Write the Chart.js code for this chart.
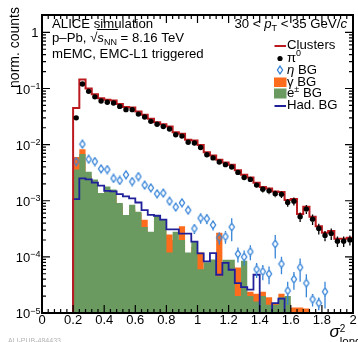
<!DOCTYPE html>
<html>
<head>
<meta charset="utf-8">
<script src="https://cdn.jsdelivr.net/npm/chart.js@4.4.0/dist/chart.umd.min.js"></script>
<style>
  html, body { margin: 0; padding: 0; background: #fff; }
  #wrap { width: 358px; height: 342px; position: relative; }
</style>
</head>
<body>
<div id="wrap"><canvas id="myChart"></canvas></div>
<script>
// lower edges of the sigma^2_long bins (width 0.04)
const binLow = [0.20, 0.24, 0.28, 0.32, 0.36, 0.40, 0.44, 0.48, 0.52, 0.56,
                0.60, 0.64, 0.68, 0.72, 0.76, 0.80, 0.84, 0.88, 0.92, 0.96,
                1.00, 1.04, 1.08, 1.12, 1.16, 1.20, 1.24, 1.28, 1.32, 1.36,
                1.40, 1.44, 1.48, 1.52, 1.56, 1.60, 1.64, 1.68, 1.72, 1.76,
                1.80, 1.84, 1.88, 1.92, 1.96];
const BIN_W = 0.04;

const clusters = [0.045, 0.145, 0.100, 0.079, 0.067, 0.063, 0.061, 0.053, 0.047, 0.046,
                  0.039, 0.034, 0.029, 0.025, 0.023, 0.021, 0.0166, 0.0157, 0.0122, 0.0118,
                  0.0098, 0.0073, 0.0064, 0.0054, 0.0048, 0.0044, 0.0035, 0.0029, 0.0026, 0.0021,
                  0.00175, 0.00165, 0.00146, 0.00143, 0.00103, 0.00108, 0.00058, 0.00078, 0.00052, 0.00035,
                  0.00027, 0.00029, 0.00021, 0.00021, 0.00022];

const pi0 = [0.030, 0.12, 0.089, 0.071, 0.060, 0.057, 0.055, 0.048, 0.042, 0.042,
             0.035, 0.031, 0.026, 0.023, 0.021, 0.019, 0.015, 0.0142, 0.011, 0.0107,
             0.0089, 0.0066, 0.0058, 0.0049, 0.0044, 0.0040, 0.0032, 0.0026, 0.0024, 0.0019,
             0.0016, 0.0015, 0.00133, 0.0013, 0.00093, 0.00098, 0.00052, 0.00071, 0.00047, 0.00032,
             0.00024, 0.00026, 0.00019, 0.00019, 0.0002];
const pi0Err = [0.0005, 0.0015, 0.0012, 0.001, 0.0009, 0.0009, 0.0009, 0.0008, 0.0007, 0.0007,
                0.0006, 0.0006, 0.0005, 0.0005, 0.0005, 0.0005, 0.0004, 0.0004, 0.0004, 0.0004,
                0.0004, 0.0003, 0.0003, 0.0003, 0.0003, 0.0003, 0.0003, 0.00026, 0.00025, 0.00022,
                0.0002, 0.0002, 0.00018, 0.00018, 0.00015, 0.00016, 0.0001, 0.00013, 0.0001, 0.00007,
                0.00005, 0.00006, 0.00004, 0.00004, 0.00004];

const etaBG = [0.0050, 0.0102, 0.0055, 0.0050, 0.0037, 0.0036, 0.0025, 0.0023, 0.0029, 0.0022,
               0.0027, 0.0019, 0.0017, 0.00133, 0.00137, 0.00098, 0.00077, 0.00092, 0.00068, 0.00032,
               0.00049, 0.00048, 0.00037, 0.00022, 0.00023, 0.00034, 0.000113, 0.0001, 0.000124, 0.00006,
               0.000055, 0.00005, 0.00017, 0.000075, 0.000025, 0.00004, 0.000065, 0.000034, 0.0000175, 0.000015,
               0.000024, null, null, null, null];
const etaErr = [0.00025, 0.0005, 0.00028, 0.00025, 0.00022, 0.00022, 0.00018, 0.00016, 0.0002, 0.00018,
                0.00022, 0.00015, 0.00015, 0.00013, 0.00014, 0.00012, 0.00009, 0.00011, 0.0001, 0.000064,
                0.0001, 0.0001, 0.000074, 0.000055, 0.000058, 0.00015, 0.000034, 0.00003, 0.000037, 0.000018,
                0.0000165, 0.0000175, 0.000076, 0.000026, 0.000011, 0.000014, 0.000029, 0.000015, 0.0000044, 0.0000038,
                0.000012, null, null, null, null];

const gammaBG = [0.0060, 0.0083, 0.0028, 0.0021, 0.0012, 0.0015, 0.0013, 0.0008, 0.0005, 0.0007,
                 0.0006, 0.00046, 0.00025, 0.00045, 0.0004, 0.00025, 0.0002, 0.00035, 0.0001, 0.00015,
                 0.00012, 0.00006, 0.00005, 0.00027, 0.00005, 0.00007, 0.000065, 0.00003, 0.000024, 0.000022,
                 0.000024, 0.000019, 0.000015, 0.000022, 0.000015, 0.0000125, 0.0000125, 0.000012, 0, 0,
                 0, 0, 0, 0, 0];
const eBG = [0.0036, 0.0068, 0.0033, 0.0024, 0.00138, 0.0018, 0.00158, 0.00091, 0.00056, 0.00085,
             0.00064, 0.00034, 0.00028, 0.00054, 0.00046, 0.00012, 0.00028, 0.0002, 0.00012, 0.00019,
             0.00006, 0.00008, 0.00009, 0.000045, 0.000089, 0.000089, 0.00002, 0.000085, 0.00002, 0.000016,
             0.00002, 0.000014, 0.000014, 0.000019, 0.00002, 0, 0, 0, 0, 0,
             0, 0, 0, 0, 0];
const hadBG = [0.00107, 0.0025, 0.0024, 0.0021, 0.00186, 0.0015, 0.00147, 0.00131, 0.0012, 0.0011,
               0.00093, 0.00068, 0.00056, 0.00054, 0.00046, 0.00031, 0.00031, 0.00026, 0.00026, 0.000187,
               0.000115, 0.000083, 0.000117, 0.000048, 0.000078, 0.000059, 0.000034, 0.000029, 0.000026, 0.000048,
               0, 0, 0.000015, 0.000018, 0, 0, 0, 0, 0, 0,
               0, 0, 0, 0, 0];

const xTickVals = [0, 0.2, 0.4, 0.6, 0.8, 1, 1.2, 1.4, 1.6, 1.8, 2];
const xTickLabels = ['0', '0.2', '0.4', '0.6', '0.8', '1', '1.2', '1.4', '1.6', '1.8', '2'];
const yTickVals = [1e-5, 1e-4, 1e-3, 1e-2, 1e-1, 1];
const yTickExp = ['\u22125', '\u22124', '\u22123', '\u22122', '\u22121', null];

const Y_MIN = 1e-5, Y_MAX = 2.04;
const FONT = '"Liberation Sans", Arial, sans-serif';

const RED = '#bb1a1f', ORANGE = '#fd6c1d', GREEN = '#6a9a60', BLUE = '#3784d8', NAVY = '#20209a';

// open, slightly tall diamond used for the eta markers
const diamond = document.createElement('canvas');
diamond.width = 8; diamond.height = 10;
(function () {
  const c = diamond.getContext('2d');
  c.strokeStyle = BLUE; c.lineWidth = 1.3;
  c.beginPath();
  c.moveTo(4, 1.1); c.lineTo(6.6, 5); c.lineTo(4, 8.9); c.lineTo(1.4, 5); c.closePath();
  c.stroke();
})();

function histPoints(vals, fromBottom) {
  const pts = fromBottom ? [{x: binLow[0], y: Y_MIN}] : [];
  vals.forEach((v, i) => pts.push({x: binLow[i], y: v > 0 ? v : Y_MIN}));
  const last = vals[vals.length - 1];
  pts.push({x: binLow[vals.length - 1] + BIN_W, y: last > 0 ? last : Y_MIN});
  return pts;
}
function markerPoints(vals) {
  return vals.map((v, i) => ({x: binLow[i] + BIN_W / 2, y: v}));
}

// draw a row of text pieces (font, dy) one after another
function richText(ctx, parts, x, y, align) {
  let w = 0;
  parts.forEach(p => { ctx.font = p.f; w += ctx.measureText(p.t).width; });
  let cx = align === 'right' ? x - w : x;
  const pos = [];
  parts.forEach(p => {
    ctx.font = p.f;
    ctx.fillText(p.t, cx, y + (p.dy || 0));
    const pw = ctx.measureText(p.t).width;
    pos.push([cx, cx + pw]);
    cx += pw;
  });
  return pos;
}

const errorBars = {
  id: 'errorBars',
  afterDatasetsDraw(chart) {
    const {ctx, chartArea: a, scales: {x, y}} = chart;
    ctx.save();
    ctx.beginPath();
    ctx.rect(a.left, a.top, a.width, a.height);
    ctx.clip();
    const bars = (vals, errs, color, gap) => {
      ctx.strokeStyle = color; ctx.lineWidth = 1.3;
      ctx.beginPath();
      vals.forEach((v, i) => {
        if (v == null || errs[i] == null) return;
        const px = x.getPixelForValue(binLow[i] + BIN_W / 2);
        const yc = y.getPixelForValue(v);
        const yt = y.getPixelForValue(v + errs[i]);
        const lo = v - errs[i];
        const yb = lo > 0 ? y.getPixelForValue(lo) : a.bottom;
        if (yt < yc - gap) { ctx.moveTo(px, yt); ctx.lineTo(px, yc - gap); }
        if (yb > yc + gap) { ctx.moveTo(px, yc + gap); ctx.lineTo(px, yb); }
      });
      ctx.stroke();
    };
    bars(etaBG, etaErr, BLUE, 4.2);
    bars(pi0, pi0Err, '#000', 2.6);
    ctx.restore();
  }
};

const frame = {
  id: 'frame',
  afterDraw(chart) {
    const {ctx, chartArea: a, scales: {x, y}} = chart;
    ctx.save();
    ctx.strokeStyle = '#000';
    ctx.lineWidth = 1.2;
    ctx.beginPath();
    // x ticks, bottom and top
    for (let k = 0; k <= 50; k++) {
      const px = x.getPixelForValue(k * 0.04);
      const len = k % 5 === 0 ? 8 : 4;
      ctx.moveTo(px, a.bottom); ctx.lineTo(px, a.bottom - len);
      ctx.moveTo(px, a.top); ctx.lineTo(px, a.top + len);
    }
    // y ticks, left and right
    for (let d = -5; d <= 0; d++) {
      for (let m = 1; m <= 9; m++) {
        const v = m * Math.pow(10, d);
        if (v > Y_MAX) continue;
        const py = y.getPixelForValue(v);
        const len = m === 1 ? 8 : 4;
        ctx.moveTo(a.left, py); ctx.lineTo(a.left + len, py);
        ctx.moveTo(a.right, py); ctx.lineTo(a.right - len, py);
      }
    }
    ctx.stroke();
    ctx.lineWidth = 2;
    ctx.strokeRect(a.left, a.top, a.width, a.height);

    ctx.fillStyle = '#000';
    // x tick labels
    ctx.font = '13px ' + FONT;
    ctx.textAlign = 'center';
    ctx.textBaseline = 'alphabetic';
    xTickVals.forEach((v, i) => ctx.fillText(xTickLabels[i], x.getPixelForValue(v), 324));
    // y tick labels
    yTickVals.forEach((v, i) => {
      const py = y.getPixelForValue(v);
      ctx.textAlign = 'right';
      if (yTickExp[i]) {
        ctx.font = '9px ' + FONT;
        ctx.fillText(yTickExp[i], 40.5, py + 0.5);
        const ew = ctx.measureText(yTickExp[i]).width;
        ctx.font = '13px ' + FONT;
        ctx.fillText('10', 40.5 - ew, py + 5);
      } else {
        ctx.font = '13px ' + FONT;
        ctx.fillText('1', 38.5, py + 5);
      }
    });
    ctx.textAlign = 'left';

    // axis titles
    ctx.save();
    ctx.translate(18.5, 7);
    ctx.rotate(-Math.PI / 2);
    ctx.textAlign = 'right';
    ctx.font = '14px ' + FONT;
    ctx.fillText('norm. counts', 0, 0);
    ctx.restore();

    ctx.font = 'italic 17px ' + FONT;
    ctx.fillText('\u03c3', 329.5, 337);
    const sw = ctx.measureText('\u03c3').width;
    ctx.font = '10px ' + FONT;
    ctx.fillText('2', 329.5 + sw, 331.5);
    ctx.font = '11.5px ' + FONT;
    ctx.fillText('long', 329.5 + sw, 344.5);

    // header texts
    const f13 = '13.2px ' + FONT, i13 = 'italic 13.2px ' + FONT, s9 = '9px ' + FONT;
    ctx.font = f13;
    ctx.fillText('ALICE simulation', 52, 28);
    const pos = richText(ctx, [
      {t: 'p\u2013Pb, ', f: f13}, {t: '\u221a', f: f13}, {t: 's', f: i13},
      {t: 'NN', f: s9, dy: 3}, {t: ' = 8.16 TeV', f: f13}], 52, 42);
    ctx.lineWidth = 1;
    ctx.beginPath();
    ctx.moveTo(pos[1][1] - 0.5, 29.5); ctx.lineTo(pos[3][1] + 1, 29.5);
    ctx.stroke();
    ctx.font = f13;
    ctx.fillText('mEMC, EMC-L1 triggered', 52, 58);

    richText(ctx, [
      {t: '30 < ', f: f13}, {t: 'p', f: i13}, {t: 'T', f: s9, dy: 3},
      {t: ' < 35 GeV/', f: f13}, {t: 'c', f: i13}], 347, 27.5, 'right');

    // legend
    const tx = 287;
    ctx.lineWidth = 2;
    ctx.strokeStyle = RED;
    ctx.beginPath(); ctx.moveTo(274.5, 46); ctx.lineTo(286, 46); ctx.stroke();
    ctx.font = f13;
    ctx.fillText('Clusters', tx, 48.5);

    ctx.fillStyle = '#000';
    ctx.beginPath(); ctx.arc(280, 58.5, 2.6, 0, Math.PI * 2); ctx.fill();
    richText(ctx, [{t: '\u03c0', f: f13}, {t: '0', f: s9, dy: -6}], tx, 61.8);

    ctx.drawImage(diamond, 276, 65);
    richText(ctx, [{t: '\u03b7', f: i13}, {t: ' BG', f: f13}], tx, 74);

    ctx.fillStyle = ORANGE;
    ctx.fillRect(274, 77.5, 12.5, 9.5);
    ctx.fillStyle = '#000';
    richText(ctx, [{t: '\u03b3', f: f13}, {t: ' BG', f: f13}], tx, 85.5);

    ctx.fillStyle = GREEN;
    ctx.fillRect(274, 88.5, 12.5, 10);
    ctx.fillStyle = '#000';
    richText(ctx, [{t: 'e', f: f13}, {t: '\u00b1', f: s9, dy: -5}, {t: ' BG', f: f13}], tx, 97);

    ctx.strokeStyle = NAVY;
    ctx.beginPath(); ctx.moveTo(274.5, 106); ctx.lineTo(286, 106); ctx.stroke();
    ctx.font = f13;
    ctx.fillText('Had. BG', tx, 108.5);

    // faint figure id at the bottom
    ctx.fillStyle = '#b4b4b4';
    ctx.font = '7px ' + FONT;
    ctx.textBaseline = 'top';
    ctx.fillText('ALI-PUB-484433', 8, 337.5);
    ctx.restore();
  }
};

const ctx = document.getElementById('myChart').getContext('2d');
const chart = new Chart(ctx, {
  type: 'line',
  data: {
    datasets: [
      {
        label: 'pi0', data: markerPoints(pi0), showLine: false,
        pointStyle: 'circle', pointRadius: 2.7, pointBackgroundColor: '#000', pointBorderWidth: 0
      },
      {
        label: 'Clusters', data: histPoints(clusters, true), stepped: 'before',
        borderColor: RED, borderWidth: 2, pointRadius: 0, fill: false
      },
      {
        label: 'eta BG', data: markerPoints(etaBG), showLine: false,
        pointStyle: diamond, pointRadius: 4
      },
      {
        label: 'Had. BG', data: histPoints(hadBG, true), stepped: 'before',
        borderColor: NAVY, borderWidth: 1.8, pointRadius: 0, fill: false
      },
      {
        label: 'e BG', data: histPoints(eBG, false), stepped: 'before',
        borderColor: 'rgba(0,0,0,0)', borderWidth: 0, backgroundColor: GREEN,
        pointRadius: 0, fill: 'start'
      },
      {
        label: 'gamma BG', data: histPoints(gammaBG, false), stepped: 'before',
        borderColor: 'rgba(0,0,0,0)', borderWidth: 0, backgroundColor: ORANGE,
        pointRadius: 0, fill: 'start'
      }
    ]
  },
  options: {
    responsive: true,
    maintainAspectRatio: false,
    animation: false,
    layout: { padding: { left: 42, right: 2, top: 15, bottom: 29 } },
    plugins: { legend: { display: false }, tooltip: { enabled: false } },
    scales: {
      x: { type: 'linear', min: 0, max: 2, display: false },
      y: { type: 'logarithmic', min: Y_MIN, max: Y_MAX, display: false }
    },
    elements: { line: { tension: 0 } }
  },
  plugins: [errorBars, frame]
});
</script>
</body>
</html>
